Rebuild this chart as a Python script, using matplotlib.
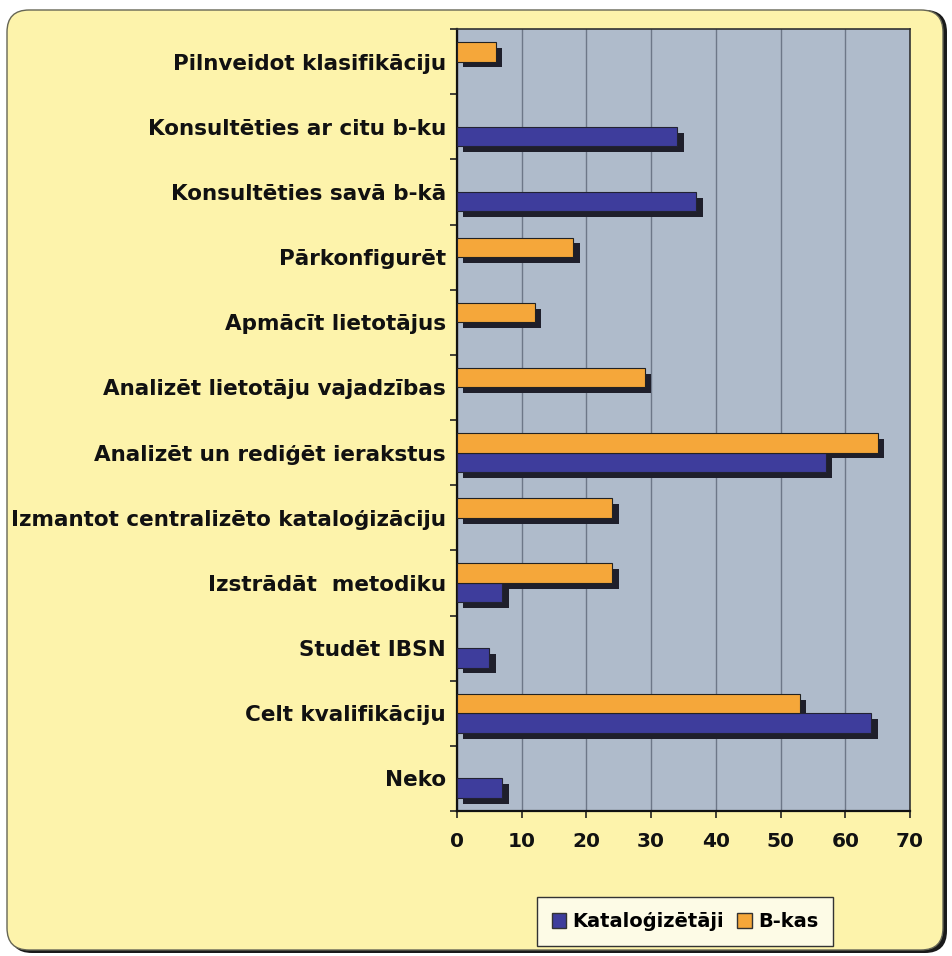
import matplotlib
matplotlib.use("Agg")
import matplotlib.pyplot as plt
from matplotlib.patches import FancyBboxPatch, Patch
import numpy as np

categories = [
    "Neko",
    "Celt kvalifikāciju",
    "Studēt IBSN",
    "Izstrādāt  metodiku",
    "Izmantot centralizēto kataloģizāciju",
    "Analizēt un rediģēt ierakstus",
    "Analizēt lietotāju vajadzības",
    "Apmācīt lietotājus",
    "Pārkonfigurēt",
    "Konsultēties savā b-kā",
    "Konsultēties ar citu b-ku",
    "Pilnveidot klasifikāciju",
]
katalogizetaji = [7, 64, 5, 7, 0, 57, 0, 0, 0, 37, 34, 0]
bkas = [0, 53, 0, 24, 24, 65, 29, 12, 18, 0, 0, 6]
series_names = ["Kataloģizētāji", "B-kas"]
xticks = [0, 10, 20, 30, 40, 50, 60, 70]

W, H = 952, 956
fig = plt.figure(figsize=(W / 100, H / 100), dpi=100)
fig.patch.set_facecolor("white")

FONT = "DejaVu Sans"
yellow = "#fdf3ab"
blue = "#3e3d9c"
orange = "#f5a73a"
shade = "#1f1f2b"

# rounded background frame with shadow
rs = 22 / W
shadow_box = FancyBboxPatch((10 / W, 3 / H), (937 / W), (943 / H),
                            boxstyle=f"round,pad=0,rounding_size={rs}",
                            transform=fig.transFigure, facecolor="#1a1a1a",
                            edgecolor="none", zorder=-2)
fig.patches.append(shadow_box)
bg_box = FancyBboxPatch((7 / W, 6 / H), (936 / W), (940 / H),
                        boxstyle=f"round,pad=0,rounding_size={rs}",
                        transform=fig.transFigure, facecolor=yellow,
                        edgecolor="#666655", linewidth=1.0, zorder=-1)
fig.patches.append(bg_box)

ax = fig.add_axes([457 / W, 1 - 811 / H, (910 - 457) / W, (811 - 29) / H])
ax.set_zorder(1)
ax.set_facecolor("#afbbcb")

y = np.arange(len(categories))
h = 0.30
dx, dy = 1.0, 0.09
k = np.array(katalogizetaji, dtype=float)
b = np.array(bkas, dtype=float)
km = k > 0
bm = b > 0

# shadows
ax.barh(y[km] - h / 2 - dy, k[km], height=h, left=dx, color=shade, zorder=2)
ax.barh(y[bm] + h / 2 - dy, b[bm], height=h, left=dx, color=shade, zorder=2)
# front faces
ax.barh(y[km] - h / 2, k[km], height=h, color=blue, edgecolor="#222233",
        linewidth=0.8, zorder=3)
ax.barh(y[bm] + h / 2, b[bm], height=h, color=orange, edgecolor="#222222",
        linewidth=0.8, zorder=4)

ax.set_xlim(0, 70)
ax.set_ylim(-0.5, len(categories) - 0.5)
ax.set_xticks(xticks)
ax.set_xticklabels([str(t) for t in xticks], fontsize=14.5, fontweight="bold",
                   family=FONT, color="#111111")
ax.xaxis.grid(True, color="#6d7788", linewidth=1.0, zorder=1)
ax.set_axisbelow(True)

ax.set_yticks(np.arange(len(categories) + 1) - 0.5)
ax.set_yticklabels([])
ax.set_yticks(y, minor=True)
ax.set_yticklabels(categories, minor=True, fontsize=15.5, fontweight="bold",
                   family=FONT, color="#111111")
ax.tick_params(axis="y", which="minor", length=0, pad=8)
ax.tick_params(axis="y", which="major", length=5, width=1.2, direction="out",
               color="#222222")
ax.tick_params(axis="x", length=5, width=1.2, direction="out", pad=10,
               color="#222222")

for side in ["left", "bottom"]:
    ax.spines[side].set_color("#111111")
    ax.spines[side].set_linewidth(1.6)
for side in ["top", "right"]:
    ax.spines[side].set_color("#333333")
    ax.spines[side].set_linewidth(1.2)

handles = [Patch(facecolor=blue, edgecolor="#333333", label=series_names[0]),
           Patch(facecolor=orange, edgecolor="#333333", label=series_names[1])]
leg = fig.legend(handles=handles, loc="center", bbox_to_anchor=(685 / W, 1 - 921.5 / H),
                 ncol=2, frameon=True, fancybox=False, handlelength=0.75,
                 handleheight=0.8, handletextpad=0.3, columnspacing=0.7,
                 borderpad=0.75, borderaxespad=0,
                 prop={"family": FONT, "weight": "bold", "size": 14})
leg.get_frame().set_facecolor("#fdfbe6")
leg.get_frame().set_edgecolor("#333333")
leg.get_frame().set_linewidth(1.0)
leg.get_frame().set_alpha(1)
leg.set_zorder(5)

fig.savefig("out.png", dpi=100, facecolor=fig.get_facecolor())
